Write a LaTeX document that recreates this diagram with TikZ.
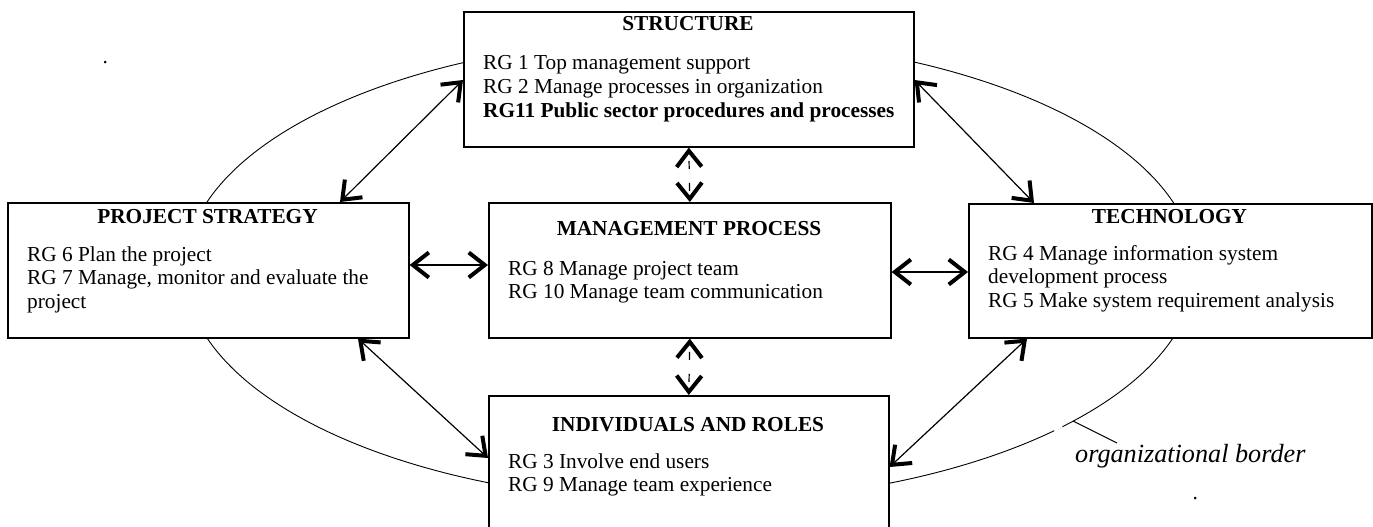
\documentclass[tikz,border=0pt]{standalone}
\usepackage{fontspec}
\setmainfont{Liberation Serif}
\usetikzlibrary{arrows.meta,calc}
\begin{document}
\begin{tikzpicture}[x=1pt,y=-1pt,
  box/.style={draw, line width=1.6pt, fill=white, rectangle, inner sep=0pt, anchor=north west},
  hdr/.style={font=\fontsize{21.3}{23.6}\selectfont\bfseries, inner sep=0pt, anchor=base},
  txt/.style={font=\fontsize{21.3}{23.6}\selectfont, inner sep=0pt, anchor=base west},
  barb/.tip={Straight Barb[sharp,length=16pt,width=25pt,line width=4pt]},
  link/.style={line width=1.2pt, barb-barb},
  dlink/.style={link, dash pattern=on 8pt off 14pt, dash phase=14pt},
  border/.style={line width=0.9pt},
]
\useasboundingbox (0,0) rectangle (1373,527);

% organizational border
\draw[border] (690,270) ellipse [x radius=505pt, y radius=232pt];
\draw[white, line width=3pt] (1054,430) -- (1062,426);

% the five areas
\node[box, minimum width=450pt, minimum height=135pt] (S) at (463,11) {};
\node[box, minimum width=401pt, minimum height=135pt] (PS) at (7,202) {};
\node[box, minimum width=402pt, minimum height=135pt] (MP) at (488,202) {};
\node[box, minimum width=403pt, minimum height=134pt] (T) at (968,203) {};
\node[box, minimum width=400pt, minimum height=160pt] (I) at (488,395) {};

% STRUCTURE
\node[hdr] (Sh) at (688,31) {STRUCTURE};
\node[txt] (S1) at (483,70) {RG 1 Top management support};
\node[txt] (S2) at (483,93.5) {RG 2 Manage processes in organization};
\node[txt] (S3) at (483,117) {\bfseries RG11 Public sector procedures and processes};

% PROJECT STRATEGY
\node[hdr] (PSh) at (207.5,223) {PROJECT STRATEGY};
\node[txt] (PS1) at (27,261) {RG 6 Plan the project};
\node[txt] (PS2) at (27,284.5) {RG 7 Manage, monitor and evaluate the};
\node[txt] (PS3) at (27,308) {project};

% MANAGEMENT PROCESS
\node[hdr] (MPh) at (689,235) {MANAGEMENT PROCESS};
\node[txt] (MP1) at (508,275) {RG 8 Manage project team};
\node[txt] (MP2) at (508,298) {RG 10 Manage team communication};

% TECHNOLOGY
\node[hdr] (Th) at (1169.5,223) {TECHNOLOGY};
\node[txt] (T1) at (988,260) {RG 4 Manage information system};
\node[txt] (T2) at (988,283.5) {development process};
\node[txt] (T3) at (988,307) {RG 5 Make system requirement analysis};

% INDIVIDUALS AND ROLES
\node[hdr] (Ih) at (688,431) {INDIVIDUALS AND ROLES};
\node[txt] (I1) at (508,468) {RG 3 Involve end users};
\node[txt] (I2) at (508,491) {RG 9 Manage team experience};

% interactions
\draw[link] ($(S.north west)+(0,69)$) -- ($(PS.north west)+(333,0)$);
\draw[link] ($(S.north east)+(0,69)$) -- ($(T.north west)+(66,0)$);
\draw[link] ($(PS.south west)+(351,0)$) -- ($(I.north west)+(0,63)$);
\draw[link] ($(T.south west)+(59,0)$) -- ($(I.north east)+(0,72)$);
\draw[link] ($(PS.north east)+(0,63)$) -- ($(MP.north west)+(0,63)$);
\draw[link] ($(MP.north east)+(0,70)$) -- ($(T.north west)+(0,69)$);
\draw[dlink] (S.south) -- (MP.north);
\draw[dlink] (MP.south) -- (I.north);

% label of the border
\node[font=\fontsize{26.2}{30}\selectfont\itshape, inner sep=0pt, anchor=base west] (ob) at (1075,462) {organizational border};
\coordinate (lead0) at (1073,421);
\coordinate (lead1) at (1117,443);
\draw[line width=1.1pt] (lead0) -- (lead1);

% stray full stops
\node[txt] (dotA) at (102.5,63.5) {.};
\node[txt] (dotB) at (1192.5,499.5) {.};
\end{tikzpicture}
\end{document}
